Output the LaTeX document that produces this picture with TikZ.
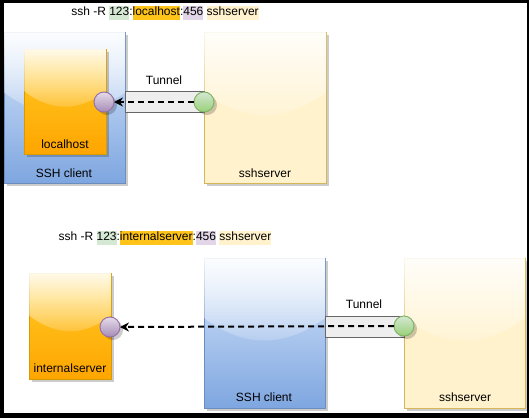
\documentclass[tikz,border=0pt]{standalone}
\usepackage{fontspec}
\setmainfont{Liberation Sans}
\usetikzlibrary{arrows.meta,fadings,shadows}
\definecolor{bluetop}{HTML}{DAE8FC}
\definecolor{bluebot}{HTML}{7EA6E0}
\definecolor{blueline}{HTML}{6C8EBF}
\definecolor{orgtop}{HTML}{FFCD28}
\definecolor{orgbot}{HTML}{FFA500}
\definecolor{orgline}{HTML}{D79B00}
\definecolor{yelfill}{HTML}{FFF2CC}
\definecolor{yelline}{HTML}{D6B656}
\definecolor{purtop}{HTML}{E6DCEA}
\definecolor{purbot}{HTML}{A58AB5}
\definecolor{purline}{HTML}{9673A6}
\definecolor{grntop}{HTML}{D5E8D4}
\definecolor{grnbot}{HTML}{97D077}
\definecolor{grnline}{HTML}{82B366}
\definecolor{bandfill}{HTML}{EEEEEE}
\definecolor{hlgreen}{HTML}{D5E8D4}
\definecolor{hlorange}{HTML}{FFC41A}
\definecolor{hlpurple}{HTML}{E1D5E7}
\definecolor{hlyellow}{HTML}{FFF2CC}
\tikzfading[name=glassfade, top color=transparent!10, bottom color=transparent!90]
\newcommand\hlt[2]{{\setlength{\fboxsep}{0pt}\colorbox{#1}{\strut #2}}}
\newcommand\gbox[6]{%
  \node[#6, minimum width={#4-#2}, minimum height={#5-#3}] (#1) at ({(#2+#4)/2},{(#3+#5)/2}) {};
  \fill[white, path fading=glassfade] (#2,#3) -- (#4,#3) -- (#4,{#3+0.4*(#5-#3)})
    .. controls ({#4-(#4-#2)/3},{#3+0.6*(#5-#3)}) and ({#2+(#4-#2)/3},{#3+0.6*(#5-#3)}) .. (#2,{#3+0.4*(#5-#3)}) -- cycle;
}
\tikzset{
  shad/.style={drop shadow={shadow xshift=3pt, shadow yshift=-3pt, fill=black, opacity=0.2}},
  box/.style={draw, rectangle, inner sep=0, outer sep=0, line width=1pt, shad},
  blueb/.style={box, draw=blueline, top color=bluetop, bottom color=bluebot},
  orangeb/.style={box, draw=orgline, top color=orgtop, bottom color=orgbot},
  yellowb/.style={box, draw=yelline, fill=yelfill},
  port/.style={circle, inner sep=0, outer sep=0, minimum size=20pt, line width=1pt, shad},
  purport/.style={port, draw=purline, top color=purtop, bottom color=purbot},
  grnport/.style={port, draw=grnline, top color=grntop, bottom color=grnbot},
  band/.style={rectangle, draw=black!60, fill=bandfill, line width=1pt, inner sep=0, outer sep=0},
  lbl/.style={font=\fontsize{12}{14}\selectfont, inner sep=0, text=black},
  dasharrow/.style={line width=2pt, dash pattern=on 6pt off 4pt, -{Stealth[length=9pt, width=9pt, inset=3pt]}},
}
\begin{document}
\begin{tikzpicture}[x=1pt, y=-1pt]
\useasboundingbox (0,0) rectangle (529,418);
\fill[black] (0,0) rectangle (529,418);
\fill[white] (4,3) rectangle (527,413);

% ---------- top ----------
\node[lbl] (title1) at (165,13) {ssh -R \hlt{hlgreen}{123}:\hlt{hlorange}{localhost}:\hlt{hlpurple}{456} \hlt{hlyellow}{sshserver}};
\gbox{client1}{4}{32}{125}{183}{blueb}
\gbox{local1}{24}{49}{106}{154}{orangeb}
\gbox{server1}{204}{32}{326}{183}{yellowb}
\node[band, minimum width=79, minimum height=21] (tunnel1) at (164.5,101.5) {};
\node[lbl] (tlabel1) at (164,80) {Tunnel};
\node[lbl] (lhlabel) at (65,144) {localhost};
\node[lbl] (c1label) at (64,173) {SSH client};
\node[lbl] (s1label) at (265,173) {sshserver};
\node[purport] (p1) at (104,102) {};
\node[grnport] (g1) at (204,102) {};
\draw[dasharrow] (g1.west) -- (p1.east);

% ---------- bottom ----------
\node[lbl] (title2) at (165,238) {ssh -R \hlt{hlgreen}{123}:\hlt{hlorange}{internalserver}:\hlt{hlpurple}{456} \hlt{hlyellow}{sshserver}};
\gbox{internal}{29}{273}{111}{379}{orangeb}
\gbox{client2}{204}{258}{325}{408}{blueb}
\gbox{server2}{404}{258}{525}{408}{yellowb}
\node[band, minimum width=79, minimum height=21] (tunnel2) at (364.5,326.5) {};
\node[lbl] (tlabel2) at (364,304) {Tunnel};
\node[lbl] (islabel) at (70,368) {internalserver};
\node[lbl] (c2label) at (264,397) {SSH client};
\node[lbl] (s2label) at (465,397) {sshserver};
\node[purport] (p2) at (110,327) {};
\node[grnport] (g2) at (404,326) {};
\draw[dasharrow] (g2.west) -- (p2.east);
\end{tikzpicture}
\end{document}
